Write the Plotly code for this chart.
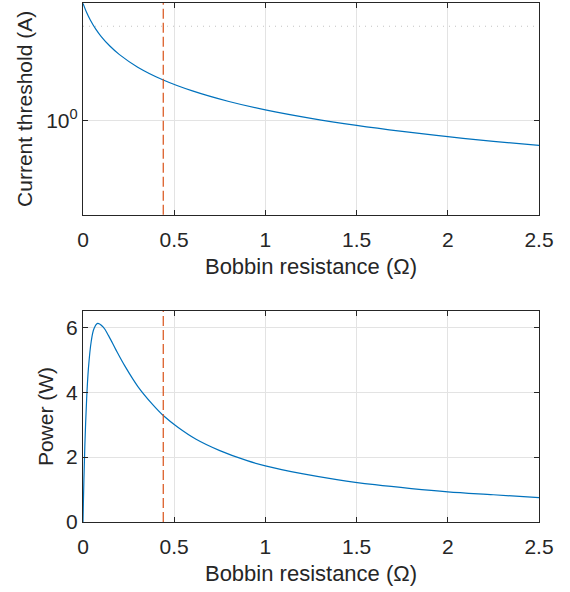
import plotly.graph_objects as go

# Data
R_thr = [0.0, 0.02, 0.04, 0.07, 0.1, 0.15, 0.2, 0.3, 0.44, 0.6, 0.8, 1.0, 1.25, 1.5, 1.75, 2.0, 2.25, 2.5]
I_thr = [17.5, 14.0, 11.67, 9.33, 7.78, 6.09, 5.0, 3.68, 2.69, 2.06, 1.59, 1.296, 1.053, 0.886, 0.765, 0.673, 0.601, 0.543]

R_pow = [0.0, 0.002, 0.005, 0.01, 0.02, 0.03, 0.045, 0.06, 0.08, 0.11, 0.14, 0.18, 0.23, 0.3, 0.38, 0.44, 0.52, 0.62, 0.75, 0.9, 1.0, 1.2, 1.4, 1.6, 1.8, 2.0, 2.25, 2.5]
P_pow = [0.0, 0.56, 1.30, 2.33, 3.80, 4.75, 5.56, 5.95, 6.12, 6.01, 5.74, 5.31, 4.80, 4.18, 3.63, 3.28, 2.92, 2.55, 2.20, 1.89, 1.73, 1.49, 1.30, 1.15, 1.03, 0.93, 0.84, 0.75]

R_sel = 0.44        # dashed vertical marker
I_max = 10          # dotted horizontal limit

x_ticks = [0, 0.5, 1, 1.5, 2, 2.5]
x_ticktext = ["0", "0.5", "1", "1.5", "2", "2.5"]
y1_ticks = [1]
y1_ticktext = ["10<sup>0</sup>"]
y2_ticks = [0, 2, 4, 6]

blue = "#0072BD"
orange = "#D95319"
axc = "#262626"
gridc = "#e3e3e3"
font = dict(family="Liberation Sans, Arial, sans-serif", size=21, color=axc)
xtitle_font = dict(family="Liberation Sans, Arial, sans-serif", size=22, color=axc)

fig = go.Figure()
fig.add_trace(go.Scatter(x=R_thr, y=I_thr, mode="lines", line=dict(color=blue, width=1.2, shape="spline", smoothing=1.0),
                         xaxis="x", yaxis="y", showlegend=False, hoverinfo="skip"))
fig.add_trace(go.Scatter(x=[0, 2.5], y=[I_max, I_max], mode="lines", line=dict(color="#c4c4c4", width=1.2, dash="1px,5px"),
                         xaxis="x", yaxis="y", showlegend=False, hoverinfo="skip"))
fig.add_trace(go.Scatter(x=R_pow, y=P_pow, mode="lines", line=dict(color=blue, width=1.2, shape="spline", smoothing=1.0),
                         xaxis="x2", yaxis="y2", showlegend=False, hoverinfo="skip"))

for xr, yr in [("x", "y domain"), ("x2", "y2 domain")]:
    fig.add_shape(type="line", xref=xr, yref=yr, x0=R_sel, x1=R_sel, y0=0, y1=1,
                  line=dict(color=orange, width=1.2, dash="10px,4px"))

common_x = dict(range=[0, 2.5], tickvals=x_ticks, ticktext=x_ticktext, showline=True, linecolor=axc, linewidth=1.2,
                mirror="allticks", ticks="inside", ticklen=5, tickcolor=axc, showgrid=True, gridcolor=gridc, gridwidth=1,
                zeroline=False, tickfont=font, automargin=False, ticklabelstandoff=6,
                title=dict(text="Bobbin resistance (Ω)", font=xtitle_font, standoff=8))
dom_x = [83 / 570, 539 / 570]
common_y = dict(showline=True, linecolor=axc, linewidth=1.2, mirror="allticks", ticks="inside", ticklen=5, tickcolor=axc,
                showgrid=True, gridcolor=gridc, zeroline=False, tickfont=font, automargin=False, ticklabelstandoff=0)

fig.update_layout(
    width=570, height=592, margin=dict(l=0, r=0, t=0, b=0),
    paper_bgcolor="white", plot_bgcolor="white", font=font,
    xaxis=dict(domain=dom_x, anchor="y", **common_x),
    xaxis2=dict(domain=dom_x, anchor="y2", **common_x),
    yaxis=dict(domain=[1 - 214.7 / 592, 1 - 3 / 592], anchor="x", type="log",
               range=[-1, 1.2468], tickvals=y1_ticks, ticktext=y1_ticktext,
               title=dict(text="Current threshold (A)", font=font, standoff=7), **common_y),
    yaxis2=dict(domain=[1 - 522 / 592, 1 - 311 / 592], anchor="x2", range=[0, 6.5], tickvals=y2_ticks,
                title=dict(text="Power (W)", font=font, standoff=6), **common_y),
)

fig.write_html("out.html", config={"displayModeBar": False},
               post_script="document.body.style.margin='0';document.body.style.padding='0';")
